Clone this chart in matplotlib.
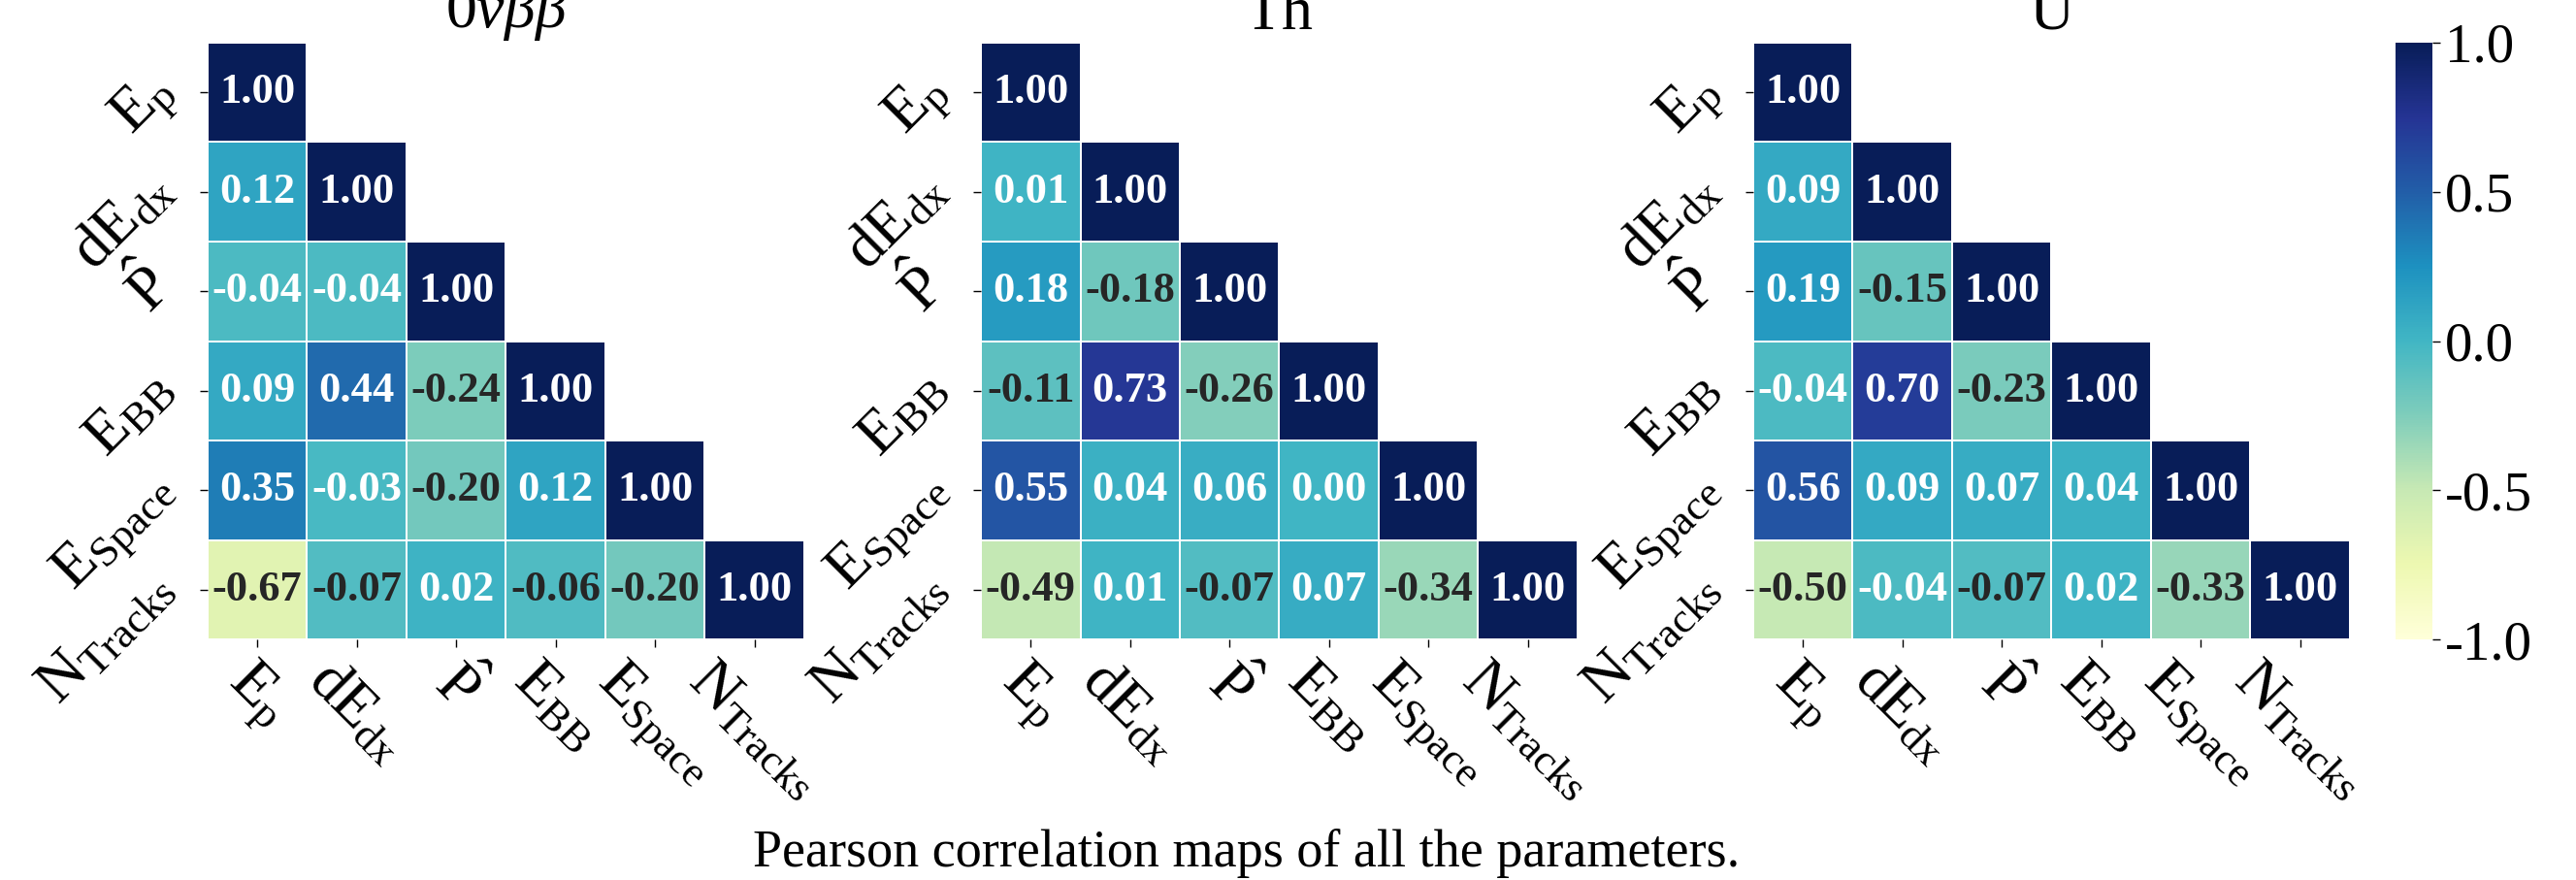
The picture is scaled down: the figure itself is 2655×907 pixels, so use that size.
import numpy as np
import matplotlib
matplotlib.use('Agg')
import matplotlib.pyplot as plt
import seaborn as sns

# global font options
matplotlib.rcParams['font.family'] = 'serif'
matplotlib.rcParams['font.serif'] = ['Liberation Serif', 'DejaVu Serif']
matplotlib.rcParams['mathtext.fontset'] = 'custom'
matplotlib.rcParams['mathtext.rm'] = 'Liberation Serif'
matplotlib.rcParams['mathtext.it'] = 'Liberation Serif:italic'
matplotlib.rcParams['mathtext.bf'] = 'Liberation Serif:bold'
matplotlib.rcParams['axes.unicode_minus'] = False

# parameter names
params = [r'$\mathrm{E_{p}}$', r'$\mathrm{dE_{dx}}$', r'$\hat{\mathrm{P}}$',
          r'$\mathrm{E_{BB}}$', r'$\mathrm{E_{Space}}$', r'$\mathrm{N_{Tracks}}$']

titles = [r'$0\nu\beta\beta$', 'Th', 'U']

# lower triangles of the correlation matrices, row by row
corr_0vbb = [[1.00],
             [0.12, 1.00],
             [-0.04, -0.04, 1.00],
             [0.09, 0.44, -0.24, 1.00],
             [0.35, -0.03, -0.20, 0.12, 1.00],
             [-0.67, -0.07, 0.02, -0.06, -0.20, 1.00]]

corr_th = [[1.00],
           [0.01, 1.00],
           [0.18, -0.18, 1.00],
           [-0.11, 0.73, -0.26, 1.00],
           [0.55, 0.04, 0.06, 0.00, 1.00],
           [-0.49, 0.01, -0.07, 0.07, -0.34, 1.00]]

corr_u = [[1.00],
          [0.09, 1.00],
          [0.19, -0.15, 1.00],
          [-0.04, 0.70, -0.23, 1.00],
          [0.56, 0.09, 0.07, 0.04, 1.00],
          [-0.50, -0.04, -0.07, 0.02, -0.33, 1.00]]


def full_matrix(tri):
  n = len(tri)
  m = np.zeros((n, n))
  for i, row in enumerate(tri):
    for j, v in enumerate(row):
      m[i, j] = v
      m[j, i] = v
  return m


n = len(params)
mask = np.triu(np.ones((n, n), dtype=bool), k=1)

fig = plt.figure(figsize=(26.55, 9.07), dpi=100)

lefts = [0.0806, 0.3808, 0.6806]
bottom, width, height = 0.2734, 0.2316, 0.6781

for k, tri in enumerate([corr_0vbb, corr_th, corr_u]):
  ax = fig.add_axes([lefts[k], bottom, width, height])
  sns.heatmap(full_matrix(tri), mask=mask, ax=ax, cmap='YlGnBu', vmin=-1, vmax=1,
              annot=True, fmt='.2f', annot_kws={'size': 32, 'weight': 'bold'},
              linewidths=1.2, linecolor='white', cbar=False,
              xticklabels=params, yticklabels=params)
  ax.set_title(titles[k], fontsize=46, pad=10)
  ax.tick_params(axis='both', labelsize=46, length=6, width=1)
  ax.tick_params(axis='y', pad=19)
  plt.setp(ax.get_xticklabels(), rotation=-45)
  plt.setp(ax.get_yticklabels(), rotation=45, ha='right', va='baseline',
           rotation_mode='anchor')
  mesh = ax.collections[0]

cax = fig.add_axes([0.9299, bottom, 0.0143, height])
cb = fig.colorbar(mesh, cax=cax, ticks=[-1.0, -0.5, 0.0, 0.5, 1.0])
cb.outline.set_visible(False)
cb.ax.tick_params(labelsize=41, length=6, width=1)

fig.text(0.4837, 14 / 907, 'Pearson correlation maps of all the parameters.',
         ha='center', va='baseline', fontsize=39)

fig.savefig('out.png', dpi=100)
